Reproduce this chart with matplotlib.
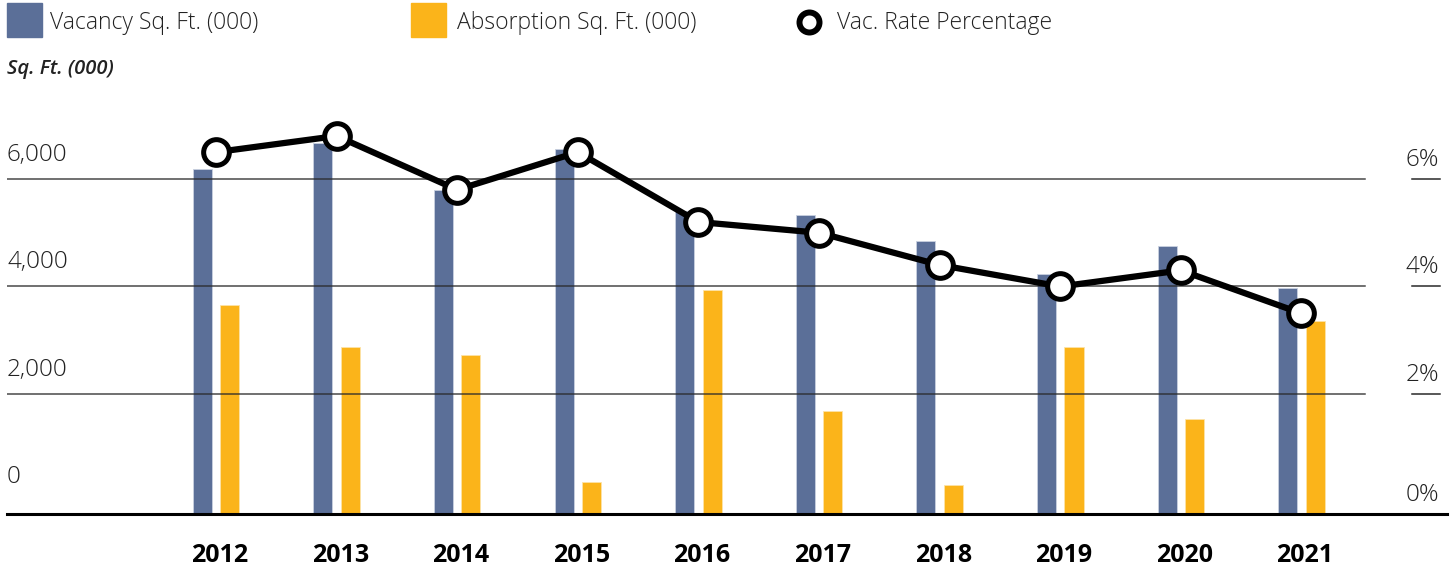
import numpy as np
import matplotlib.pyplot as plt
from matplotlib.patches import Rectangle
from matplotlib.lines import Line2D
from matplotlib.transforms import blended_transform_factory

plt.rcParams['font.family'] = ['Open Sans', 'DejaVu Sans']

# dados
anos = ['2012', '2013', '2014', '2015', '2016', '2017', '2018', '2019', '2020', '2021']
vacancia = [6180, 6670, 5790, 6560, 5400, 5330, 4840, 4240, 4760, 3980]   # Sq. Ft. (000)
absorcao = [3650, 2870, 2730, 360, 3940, 1690, 310, 2880, 1540, 3350]     # Sq. Ft. (000)
taxa_vac = [6.5, 6.8, 5.8, 6.5, 5.2, 5.0, 4.4, 4.0, 4.3, 3.5]              # %
ticks_esq = [0, 2000, 4000, 6000]
rotulos_esq = ['0', '2,000', '4,000', '6,000']
ticks_dir = [0, 2, 4, 6]
rotulos_dir = ['0%', '2%', '4%', '6%']

AZUL = '#5B6F98'
AMARELO = '#FBB41A'
TEXTO = '#222222'

W, H = 1456, 571
fig = plt.figure(figsize=(W / 100, H / 100), dpi=100)
ax = fig.add_axes([7 / W, (H - 514) / H, 1440 / W, 414 / H])
ax2 = ax.twinx()

x = np.arange(len(anos))
ax.set_xlim(-1.733, 10.207)
ax.set_ylim(-233, 7470)
ax2.set_ylim(-0.233, 7.47)
y0 = ax.get_ylim()[0]

larg = 0.158
desl = 0.114
ax.bar(x - desl, np.array(vacancia) - y0, bottom=y0, width=larg, color=AZUL,
       edgecolor='#c9d1e0', linewidth=0.6, zorder=2)
ax.bar(x + desl, np.array(absorcao) - y0, bottom=y0, width=larg, color=AMARELO,
       edgecolor='#fde3a8', linewidth=0.6, zorder=2)

# linhas de grade (só até perto do eixo direito) e tracinhos da direita
for v in ticks_esq[1:]:
    ax.axhline(v, xmin=0, xmax=0.943, color='#2a2a2a', lw=1.1, alpha=0.85, zorder=3)
for v in ticks_dir[1:]:
    ax2.axhline(v, xmin=0.976, xmax=0.995, color='#2a2a2a', lw=1.1)

# taxa de vacância
ax2.plot(x, taxa_vac, color='black', lw=4.5, marker='o', ms=18.5, mfc='white',
         mec='black', mew=3.6, zorder=5, solid_joinstyle='round')

# rótulos dos eixos (acima das linhas)
tr_esq = blended_transform_factory(ax.transAxes, ax.transData)
for v, r in zip(ticks_esq, rotulos_esq):
    ax.annotate(r, xy=(0, v), xycoords=tr_esq, xytext=(0, 13), textcoords='offset points',
                ha='left', va='baseline', fontsize=17.5, color=TEXTO, fontweight='light')
tr_dir = blended_transform_factory(ax2.transAxes, ax2.transData)
for v, r in zip(ticks_dir, rotulos_dir):
    yv = ax2.get_ylim()[0] if v == 0 else v
    ax2.annotate(r, xy=(0.9944, yv), xycoords=tr_dir, xytext=(0, 9.5), textcoords='offset points',
                 ha='right', va='baseline', fontsize=17.5, color=TEXTO, fontweight='light')

ax.set_xticks(x + 0.03, anos, fontsize=18, fontweight='bold', color='black')
ax.tick_params(axis='x', length=0, pad=21)
ax.set_yticks([])
ax2.set_yticks([])
for s in ['top', 'left', 'right']:
    ax.spines[s].set_visible(False)
    ax2.spines[s].set_visible(False)
ax2.spines['bottom'].set_visible(False)
ax.spines['bottom'].set_linewidth(2.2)
ax.spines['bottom'].set_color('black')

# legenda manual no topo
fig.add_artist(Rectangle((7 / W, 1 - 37 / H), 35 / W, 34 / H, transform=fig.transFigure,
                         color=AZUL))
fig.text(50 / W, 1 - 29 / H, 'Vacancy Sq. Ft. (000)', va='baseline', fontsize=16.5,
         color=TEXTO, fontweight='light')
fig.add_artist(Rectangle((411 / W, 1 - 37 / H), 35 / W, 34 / H, transform=fig.transFigure,
                         color=AMARELO))
fig.text(457 / W, 1 - 29 / H, 'Absorption Sq. Ft. (000)', va='baseline', fontsize=16.5,
         color=TEXTO, fontweight='light')
fig.add_artist(Line2D([809 / W], [1 - 22 / H], transform=fig.transFigure, marker='o', ms=14.4,
                      mfc='white', mec='black', mew=4.3))
fig.text(837 / W, 1 - 29 / H, 'Vac. Rate Percentage', va='baseline', fontsize=16.5,
         color=TEXTO, fontweight='light')

fig.text(7 / W, 1 - 74 / H, 'Sq. Ft. (000)', va='baseline', fontsize=14.5, style='italic',
         fontweight='semibold', color=TEXTO)

fig.savefig('out.png', dpi=100)
